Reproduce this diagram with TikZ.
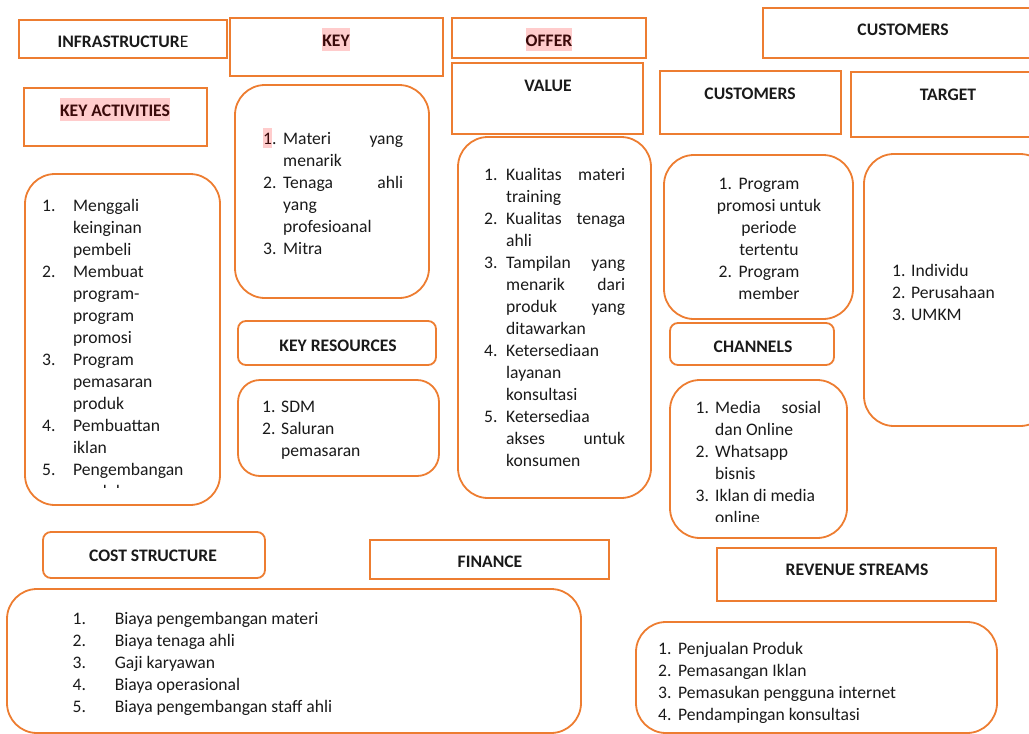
\documentclass[tikz,border=0pt]{standalone}
\usepackage{fontspec}
\setmainfont{Carlito}
\definecolor{org}{HTML}{ED7D31}
\definecolor{hlpink}{HTML}{FFCCCC}
\definecolor{hltxt}{HTML}{3A0A0A}
\definecolor{txt}{HTML}{1A1A1A}
\newcommand{\hlt}[1]{{\setlength{\fboxsep}{0pt}\colorbox{hlpink}{\rule[-5pt]{0pt}{23pt}\color{hltxt}#1}}}
\newcommand{\hltsm}[1]{{\setlength{\fboxsep}{0pt}\colorbox{hlpink}{\rule[-4pt]{0pt}{20pt}\color{hltxt}#1}}}
\newcommand{\jline}[2]{\makebox[#1pt][s]{#2}}
\newcommand{\numbox}[2]{\makebox[#1pt][l]{#2}}
\newcommand{\ind}[1]{\hspace*{#1pt}}
\newcommand{\fs}{\rule{0pt}{16pt}}
\newcommand{\bodyfont}{\fontsize{17.6}{22}\selectfont}
\newcommand{\mkbox}[6]{\node[#1, minimum width={#5-#3}, minimum height={#6-#4}] (#2) at ({(#3+#5)/2},{(#4+#6)/2}) {};}
\tikzset{
  box/.style={draw=org, line width=1.8pt, inner sep=0pt},
  sq/.style={box},
  sr/.style={box, rounded corners=8pt},
  lr/.style={box, rounded corners=30pt},
  mr/.style={box, rounded corners=22pt},
  hd/.style={anchor=base, inner sep=0pt, font=\bodyfont\bfseries, text=txt},
  lst/.style={anchor=north west, inner sep=0pt, align=left, font=\bodyfont, text=txt},
  lstc/.style={anchor=north, inner sep=0pt, align=center, font=\bodyfont, text=txt},
}
\begin{document}
\begin{tikzpicture}[x=1pt,y=-1pt]
\useasboundingbox (0,0) rectangle (1029,734);
% header boxes
\mkbox{sq}{infra}{19}{20}{227}{58}
\mkbox{sq}{keyh}{230}{18}{443}{76}
\mkbox{sq}{acth}{24}{88}{207}{146}
\mkbox{sq}{offer}{452}{18}{646}{58}
\mkbox{sq}{value}{452}{63}{643}{134}
\mkbox{sq}{custtop}{763}{8}{1060}{58}
\mkbox{sq}{custh}{660}{71}{841}{134}
\mkbox{sq}{targeth}{851}{72}{1060}{137}
\mkbox{sq}{finance}{370}{540}{609}{579}
\mkbox{sq}{revh}{717}{548}{996}{601}
\mkbox{sr}{resh}{238}{321}{436}{365}
\mkbox{sr}{chanh}{670}{323}{834}{365}
\mkbox{sr}{costh}{43}{532}{265}{578}
% content boxes
\mkbox{lr}{actc}{25}{174}{220}{505}
\mkbox{lr}{partc}{235}{85}{429}{298}
\mkbox{mr}{resc}{238}{380}{439}{476}
\mkbox{lr}{valc}{458}{137}{651}{498}
\mkbox{lr}{crc}{664}{155}{853}{319}
\mkbox{lr}{chanc}{670}{380}{847}{538}
\mkbox{lr}{tgtc}{864}{154}{1050}{426}
\mkbox{lr}{costc}{7}{589}{581}{733}
\mkbox{lr}{revc}{636}{622}{997}{733}
% headings
\node[hd] (infrat) at (123,47) {INFRASTRUCTUR{\mdseries E}};
\node[hd] (keyt) at (336,46) {\hlt{KEY}};
\node[hd] (actt) at (115,116) {\hlt{KEY ACTIVITIES}};
\node[hd] (offert) at (549,46) {\hlt{OFFER}};
\node[hd] (valuet) at (548,91) {VALUE};
\node[hd] (custtopt) at (903,35) {CUSTOMERS};
\node[hd] (custt) at (750,99) {CUSTOMERS};
\node[hd] (targett) at (948,100) {TARGET};
\node[hd] (rest) at (338,351) {KEY RESOURCES};
\node[hd] (chant) at (753,352) {CHANNELS};
\node[hd] (costt) at (153,561) {COST STRUCTURE};
\node[hd] (financet) at (490,567) {FINANCE};
\node[hd] (revt) at (857,575) {REVENUE STREAMS};
% key partners
\node[lst] (partl) at (263,128) {\fs\numbox{20}{\hltsm{1}.}\jline{120}{Materi yang}\\
\ind{20}menarik\\
\numbox{20}{2.}\jline{120}{Tenaga ahli}\\
\ind{20}yang\\
\ind{20}profesioanal\\
\numbox{20}{3.}Mitra};
% key activities
\begin{scope}
\clip (25,174) rectangle (220,487);
\node[lst] (actl) at (42,195) {\fs\numbox{31}{1.}Menggali\\
\ind{31}keinginan\\
\ind{31}pembeli\\
\numbox{31}{2.}Membuat\\
\ind{31}program-\\
\ind{31}program\\
\ind{31}promosi\\
\numbox{31}{3.}Program\\
\ind{31}pemasaran\\
\ind{31}produk\\
\numbox{31}{4.}Pembuattan\\
\ind{31}iklan\\
\numbox{31}{5.}Pengembangan\\
\ind{31}produk};
\end{scope}
% key resources
\node[lst] (resl) at (262,396) {\fs\numbox{19}{1.}SDM\\
\numbox{19}{2.}Saluran\\
\ind{19}pemasaran};
% value
\node[lst] (vall) at (484,164) {\fs\numbox{22}{1.}\jline{119}{Kualitas materi}\\
\ind{22}training\\
\numbox{22}{2.}\jline{119}{Kualitas tenaga}\\
\ind{22}ahli\\
\numbox{22}{3.}\jline{119}{Tampilan yang}\\
\ind{22}\jline{119}{menarik dari}\\
\ind{22}\jline{119}{produk yang}\\
\ind{22}ditawarkan\\
\numbox{22}{4.}Ketersediaan\\
\ind{22}layanan\\
\ind{22}konsultasi\\
\numbox{22}{5.}Ketersediaa\\
\ind{22}\jline{119}{akses untuk}\\
\ind{22}konsumen};
% customer relationships
\node[lstc] (crl) at (769,173) {\fs\makebox[0pt][r]{1.\hspace{6.6pt}}Program\\
promosi untuk\\
periode\\
tertentu\\
\makebox[0pt][r]{2.\hspace{6.6pt}}Program\\
member};
% channels
\begin{scope}
\clip (670,380) rectangle (847,521);
\node[lst] (chanl) at (695.5,397) {\fs\numbox{19.5}{1.}\jline{106}{Media sosial}\\
\ind{19.5}dan Online\\
\numbox{19.5}{2.}Whatsapp\\
\ind{19.5}bisnis\\
\numbox{19.5}{3.}Iklan di media\\
\ind{19.5}online};
\end{scope}
% target
\node[lst] (tgtl) at (892,260) {\fs\numbox{19}{1.}Individu\\
\numbox{19}{2.}Perusahaan\\
\numbox{19}{3.}UMKM};
% cost
\node[lst] (costl) at (72.4,608) {\fs\numbox{42.3}{1.}Biaya pengembangan materi\\
\numbox{42.3}{2.}Biaya tenaga ahli\\
\numbox{42.3}{3.}Gaji karyawan\\
\numbox{42.3}{4.}Biaya operasional\\
\numbox{42.3}{5.}Biaya pengembangan staff ahli};
% revenue
\node[lst] (revl) at (658,638) {\fs\numbox{20}{1.}Penjualan Produk\\
\numbox{20}{2.}Pemasangan Iklan\\
\numbox{20}{3.}Pemasukan pengguna internet\\
\numbox{20}{4.}Pendampingan konsultasi};
\end{tikzpicture}
\end{document}
